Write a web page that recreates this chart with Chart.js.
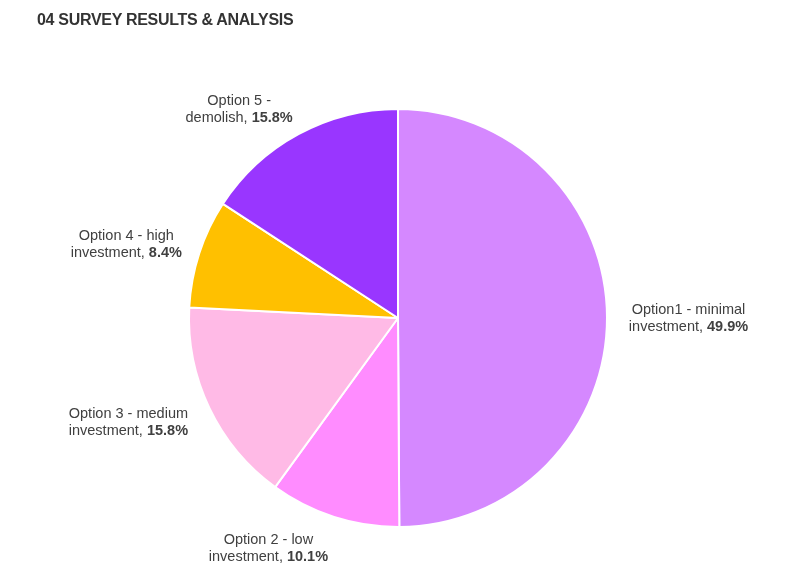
<!DOCTYPE html>
<html>
<head>
<meta charset="utf-8">
<script src="https://cdn.jsdelivr.net/npm/chart.js@4"></script>
<style>
  body { margin: 0; background: #fff; }
  #wrap { position: relative; width: 791px; height: 564px; }
  #title {
    position: absolute; left: 37px; top: 11px;
    font: bold 16px "Liberation Sans", Arial, sans-serif;
    color: #333; letter-spacing: -0.3px;
  }
</style>
</head>
<body>
<div id="wrap">
  <div id="title">04 SURVEY RESULTS &amp; ANALYSIS</div>
  <canvas id="surveyPie" width="791" height="564"></canvas>
</div>
<script>
// data
const options = ['Option1', 'Option 2', 'Option 3', 'Option 4', 'Option 5'];
const shares = [49.9, 10.1, 15.8, 8.4, 15.8];
const labelTop = ['Option1 - minimal', 'Option 2 - low', 'Option 3 - medium', 'Option 4 - high', 'Option 5 -'];
const labelBottom = ['investment, ', 'investment, ', 'investment, ', 'investment, ', 'demolish, '];
const sliceColors = ['#d588ff', '#ff8cff', '#ffbae6', '#ffc000', '#9936ff'];

// where each label sits, relative to pie centre, in units of the radius
const labelOffset = [[1.39, 0], [-0.62, 1.105], [-1.29, 0.5], [-1.3, -0.35], [-0.76, -1.0]];

const pieLabels = {
  id: 'pieLabels',
  afterDraw(chart) {
    const ctx = chart.ctx;
    const arcs = chart.getDatasetMeta(0).data;
    const normal = '14.5px "Liberation Sans", Arial, sans-serif';
    const bold = 'bold 14.5px "Liberation Sans", Arial, sans-serif';
    ctx.save();
    ctx.fillStyle = '#404040';
    ctx.textBaseline = 'middle';
    arcs.forEach((arc, i) => {
      const r = arc.outerRadius;
      const cx = arc.x + labelOffset[i][0] * r;
      const cy = arc.y + labelOffset[i][1] * r;
      // line 1
      ctx.font = normal;
      ctx.textAlign = 'center';
      ctx.fillText(labelTop[i], cx, cy - 8.5);
      // line 2, normal + bold value
      const pct = shares[i].toFixed(1) + '%';
      const w1 = ctx.measureText(labelBottom[i]).width;
      ctx.font = bold;
      const w2 = ctx.measureText(pct).width;
      const x0 = cx - (w1 + w2) / 2;
      ctx.textAlign = 'left';
      ctx.font = normal;
      ctx.fillText(labelBottom[i], x0, cy + 8.5);
      ctx.font = bold;
      ctx.fillText(pct, x0 + w1, cy + 8.5);
    });
    ctx.restore();
  }
};

const chart = new Chart(document.getElementById('surveyPie'), {
  type: 'pie',
  data: {
    labels: options,
    datasets: [{
      data: shares,
      backgroundColor: sliceColors,
      borderColor: '#ffffff',
      borderWidth: 2,
      hoverOffset: 0
    }]
  },
  options: {
    responsive: false,
    animation: false,
    layout: { padding: { top: 108, bottom: 36, left: 188, right: 183 } },
    plugins: {
      legend: { display: false },
      tooltip: { enabled: false }
    }
  },
  plugins: [pieLabels]
});
</script>
</body>
</html>
